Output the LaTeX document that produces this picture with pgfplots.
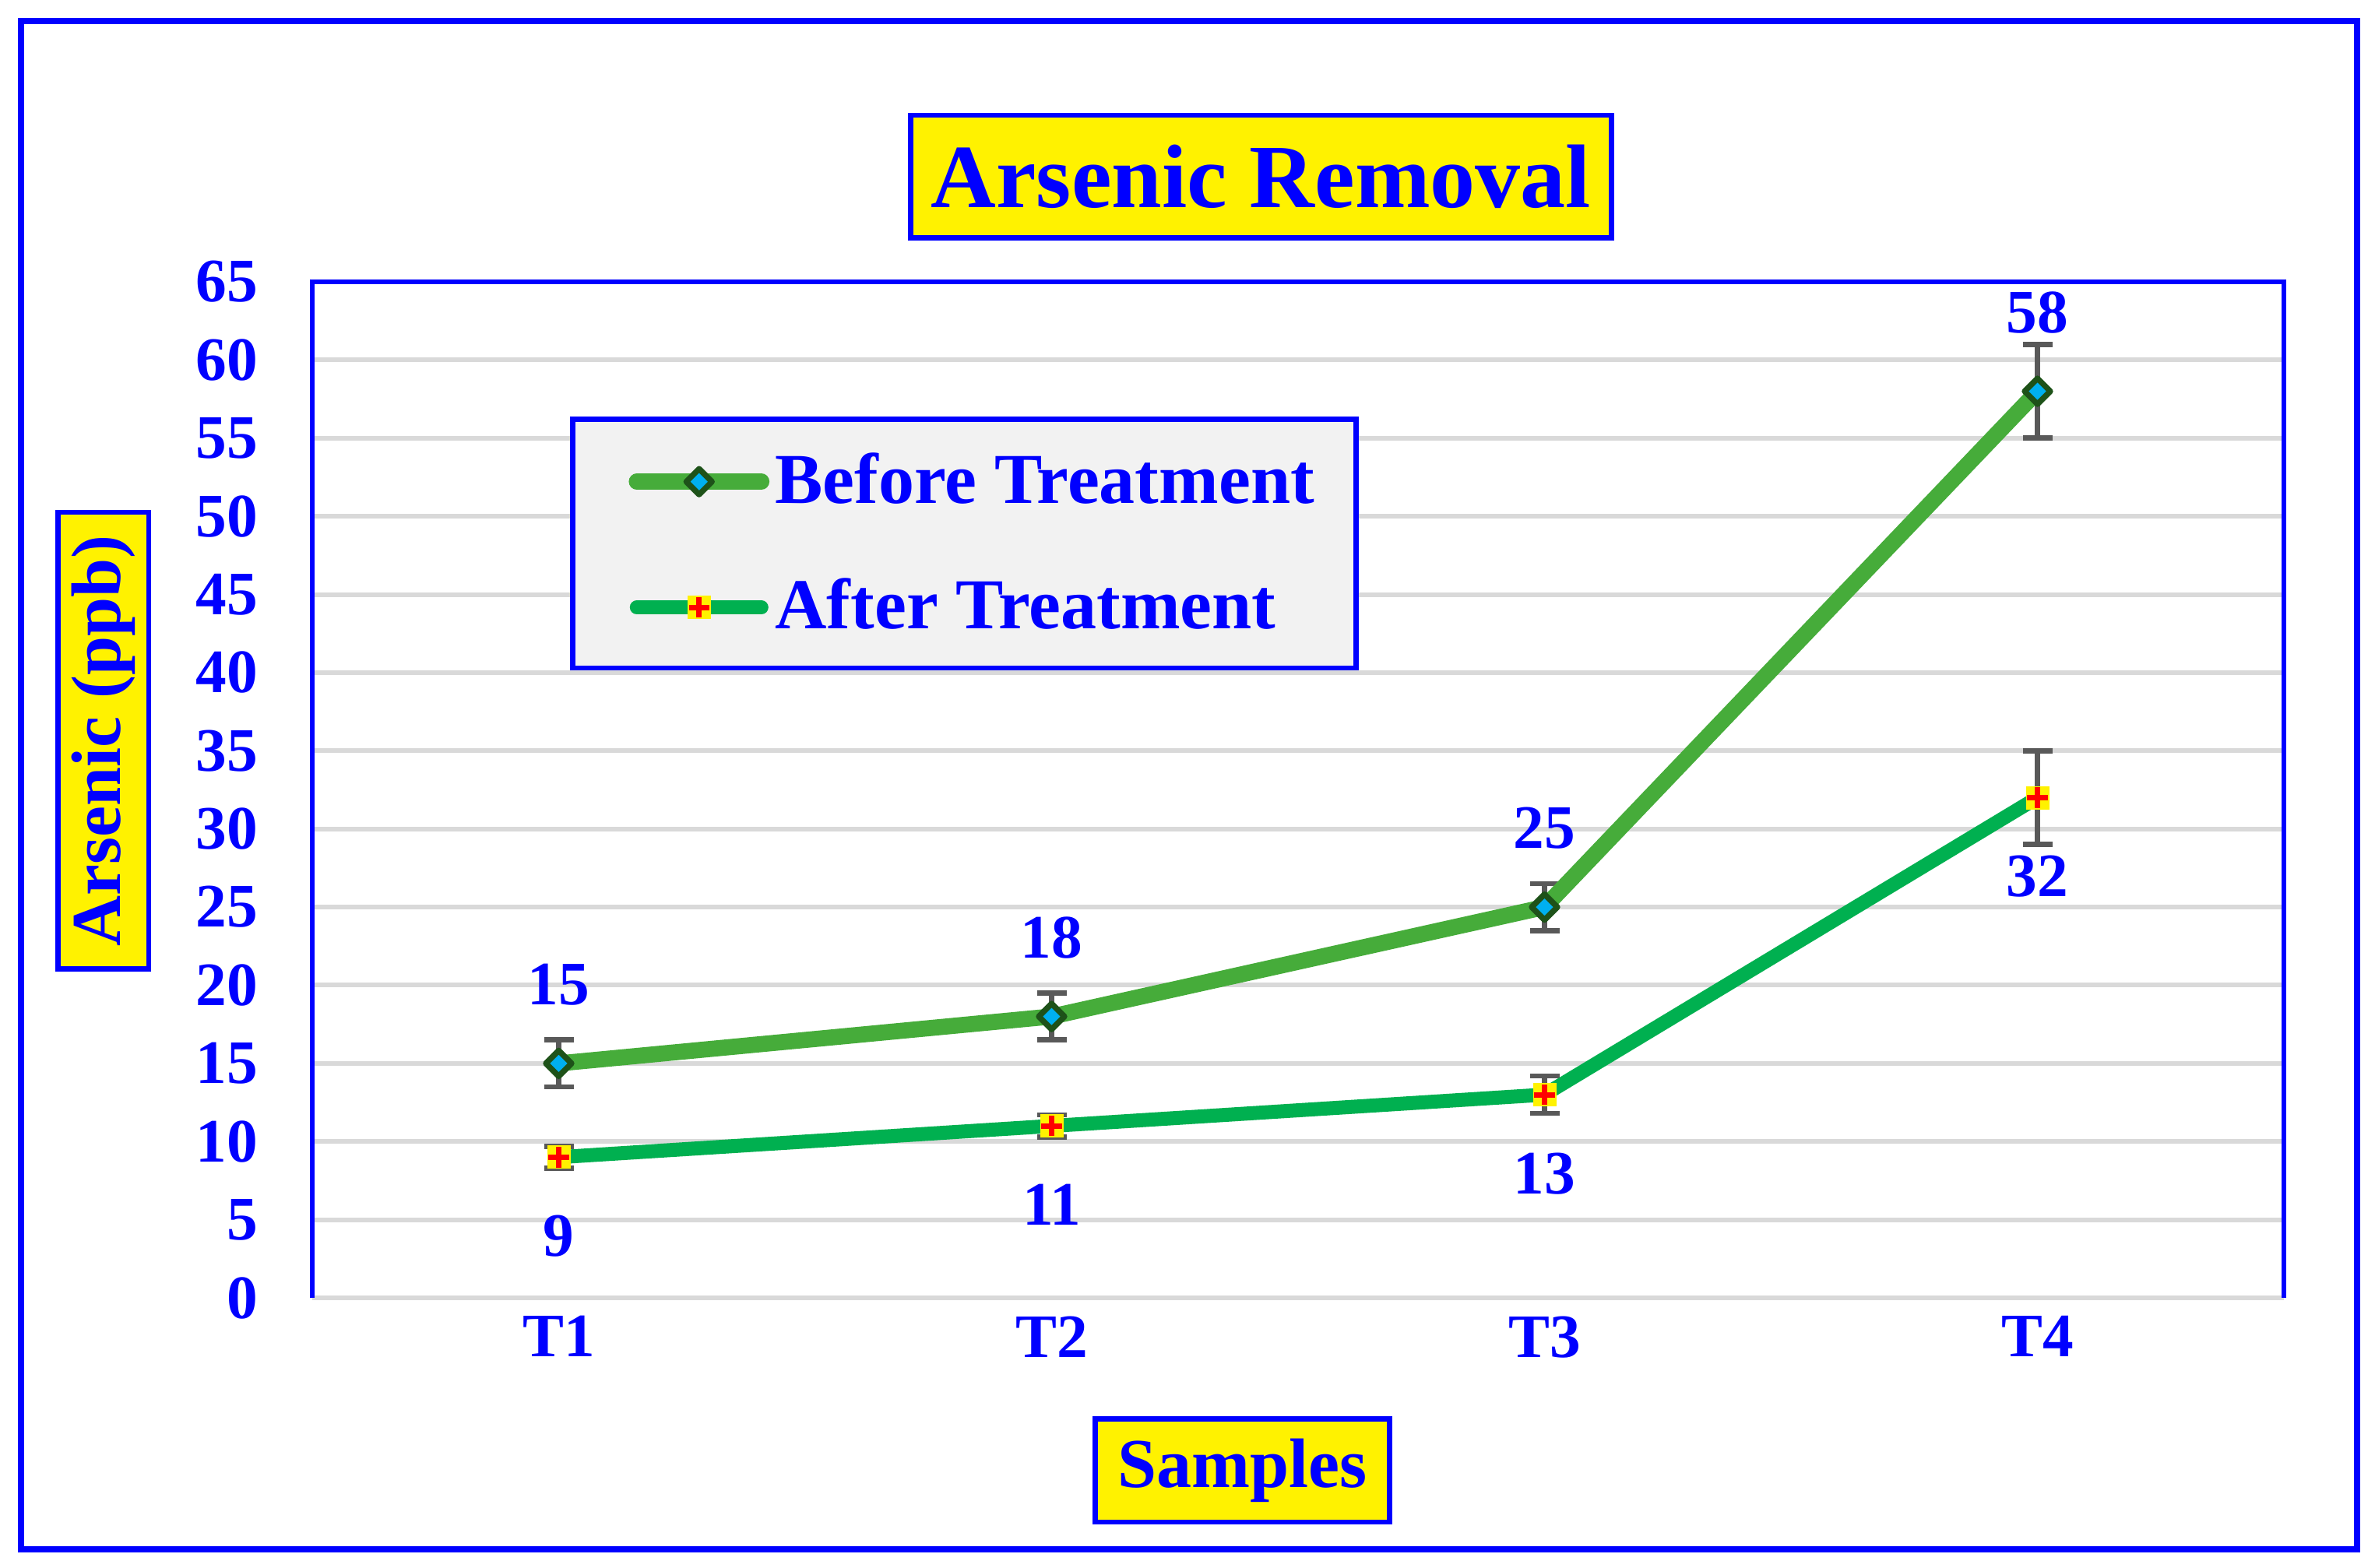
\documentclass[border=0pt]{standalone}
\usepackage{pgfplots}
\pgfplotsset{compat=1.18}
\usepackage{pgfplotstable}
\usepackage{fontspec}
\setmainfont{Liberation Serif}

\definecolor{bgreen}{RGB}{70,172,58}
\definecolor{agreen}{RGB}{0,176,80}
\definecolor{dkgreen}{RGB}{30,82,25}
\definecolor{mcyan}{RGB}{0,176,240}
\definecolor{egray}{RGB}{89,89,89}
\definecolor{gridg}{RGB}{217,217,217}
\definecolor{legbg}{RGB}{242,242,242}

% yellow square with a red cross
\pgfdeclareplotmark{sqplus}{%
  \pgfpathrectangle{\pgfqpoint{-\pgfplotmarksize}{-\pgfplotmarksize}}{\pgfqpoint{2\pgfplotmarksize}{2\pgfplotmarksize}}%
  \pgfsetfillcolor{yellow}\pgfusepath{fill}%
  \pgfsetlinewidth{1.05pt}\pgfsetstrokecolor{red}\pgfsetbuttcap
  \pgfpathmoveto{\pgfqpoint{-0.88\pgfplotmarksize}{0pt}}\pgfpathlineto{\pgfqpoint{0.88\pgfplotmarksize}{0pt}}%
  \pgfpathmoveto{\pgfqpoint{0pt}{-0.88\pgfplotmarksize}}\pgfpathlineto{\pgfqpoint{0pt}{0.88\pgfplotmarksize}}%
  \pgfusepath{stroke}%
}

\pgfplotstableread{
x y err
1 15 1.5
2 18 1.5
3 25 1.5
4 58 3
}\before
\pgfplotstableread{
x y err
1 9 0.7
2 11 0.7
3 13 1.2
4 32 3
}\after

\begin{document}
\begin{tikzpicture}
\useasboundingbox (0,0) rectangle (457.5pt,-302.1pt);
\begin{axis}[
  at={(60.15pt,-250.05pt)}, anchor=south west,
  scale only axis, width=379.8pt, height=195.75pt,
  xmin=0.5, xmax=4.5, ymin=0, ymax=65,
  xtick={1,2,3,4}, xticklabels={T1,T2,T3,T4},
  ytick={0,5,...,65},
  ymajorgrids, major grid style={gridg, line width=0.9pt},
  axis line style={draw=none},
  major tick length=0pt,
  tick label style={font=\bfseries\fontsize{11.9}{14}\selectfont, text=blue},
  yticklabel style={xshift=-7pt},
  /pgf/number format/assume math mode=true,
  clip=false,
  legend style={at={(0.1600,0.7415)}, anchor=west, draw=none, fill=none,
    inner sep=0pt, row sep=13pt, column sep=1.1pt,
    font=\bfseries\fontsize{13.8}{16}\selectfont, text=blue,
    nodes={inner sep=0pt}},
  legend cell align=left,
  legend image code/.code={%
    \draw[mark repeat=2,mark phase=2,#1] plot coordinates {(0pt,0pt) (12pt,0pt) (24pt,0pt)};},
]
\draw[blue, line width=1pt] (rel axis cs:0,0) -- (rel axis cs:0,1) -- (rel axis cs:1,1) -- (rel axis cs:1,0);
\draw[blue, line width=1pt, fill=legbg] (rel axis cs:0.1320,0.6199) rectangle (rel axis cs:0.5294,0.8646);

% error bars
\addplot[draw=none, mark=none, forget plot,
  error bars/.cd, y dir=both, y explicit,
  error bar style={draw=egray, solid, line width=1pt},
  error mark options={draw=egray, solid, line width=1pt, mark size=2.85pt, rotate=90}]
  table[x=x, y=y, y error=err] {\before};
\addplot[draw=none, mark=none, forget plot,
  error bars/.cd, y dir=both, y explicit,
  error bar style={draw=egray, solid, line width=1pt},
  error mark options={draw=egray, solid, line width=1pt, mark size=2.85pt, rotate=90}]
  table[x=x, y=y, y error=err] {\after};

\addplot[color=bgreen, line width=3.1pt, line cap=round,
  mark=square*, mark size=1.75pt,
  mark options={rotate=45, draw=dkgreen, fill=mcyan, line width=1.1pt, line join=round},
  nodes near coords,
  every node near coord/.append style={anchor=center, yshift=15.2pt, text=blue,
    font=\bfseries\fontsize{11.9}{14}\selectfont}]
  table[x=x, y=y] {\before};
\addplot[color=agreen, line width=2.7pt, line cap=round,
  mark=sqplus, mark size=2.25pt,
  nodes near coords,
  every node near coord/.append style={anchor=center, yshift=-15.2pt, text=blue,
    font=\bfseries\fontsize{11.9}{14}\selectfont}]
  table[x=x, y=y] {\after};
\legend{Before Treatment, After Treatment}
\end{axis}

\draw[blue, line width=1.3pt] (4.05pt,-4.05pt) rectangle (454.05pt,-298.5pt);
\node[fill=yellow, draw=blue, line width=1pt, minimum width=135pt, minimum height=23.6pt,
  inner sep=0pt, text=blue, font=\bfseries\fontsize{17.4}{20}\selectfont]
  at (242.9pt,-34pt) {Arsenic Removal};
\node[fill=yellow, draw=blue, line width=1pt, minimum width=88pt, minimum height=17.5pt,
  inner sep=0pt, text=blue, rotate=90, font=\bfseries\fontsize{13.5}{16}\selectfont]
  at (19.9pt,-142.7pt) {Arsenic (ppb)};
\node[fill=yellow, draw=blue, line width=1pt, minimum width=56.7pt, minimum height=19.9pt,
  inner sep=0pt, text=blue, font=\bfseries\fontsize{13.5}{16}\selectfont]
  at (239.3pt,-283.3pt) {Samples};
\end{tikzpicture}
\end{document}
